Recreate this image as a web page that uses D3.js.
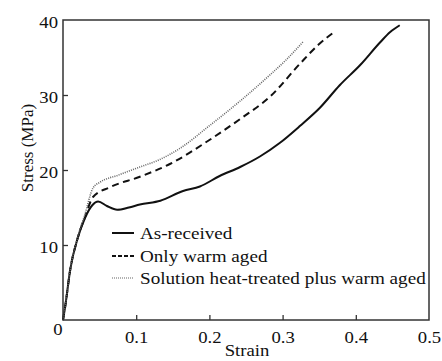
<!DOCTYPE html>
<html>
<head>
<meta charset="utf-8">
<script src="https://cdn.jsdelivr.net/npm/d3@7"></script>
<style>
  html, body { margin: 0; padding: 0; background: #fff; }
  svg { display: block; }
  svg text { font-family: "Liberation Serif", "Times New Roman", Times, serif; }
</style>
</head>
<body>
<svg id="chart" width="442" height="361"></svg>
<script>
// Stress–strain data for the three material conditions
const asReceivedStrain = [0, 0.003, 0.01, 0.02, 0.03, 0.04, 0.048, 0.06, 0.074, 0.09, 0.105, 0.133, 0.164, 0.187, 0.214, 0.242, 0.269, 0.296, 0.324, 0.351, 0.378, 0.406, 0.433, 0.447, 0.46];
const asReceivedStress = [0, 1.8, 6.8, 10.9, 13.6, 15.3, 15.8, 15.2, 14.7, 15.0, 15.4, 15.9, 17.2, 17.8, 19.2, 20.4, 21.8, 23.6, 25.9, 28.3, 31.3, 34.0, 37.0, 38.4, 39.3];

const warmAgedStrain = [0, 0.003, 0.01, 0.02, 0.03, 0.041, 0.064, 0.105, 0.146, 0.2, 0.242, 0.283, 0.324, 0.35, 0.372];
const warmAgedStress = [0, 1.8, 6.8, 10.9, 13.7, 16.4, 17.7, 19.1, 20.8, 24.0, 26.8, 29.8, 34.2, 36.8, 38.5];

const solutionStrain = [0, 0.003, 0.01, 0.02, 0.03, 0.041, 0.051, 0.075, 0.105, 0.13, 0.16, 0.2, 0.242, 0.283, 0.306, 0.328];
const solutionStress = [0, 1.8, 6.8, 11.0, 14.1, 17.6, 18.4, 19.3, 20.4, 21.3, 22.9, 25.9, 29.2, 32.7, 34.8, 37.1];

const seriesNames = ["As-received", "Only warm aged", "Solution heat-treated plus warm aged"];
const xTicks = [0.1, 0.2, 0.3, 0.4, 0.5];
const yTicks = [10, 20, 30, 40];
const xTitle = "Strain";
const yTitle = "Stress (MPa)";

const FONT = "'Liberation Serif', 'Times New Roman', Times, serif";
const FS = 17;
const INK = "#111";

const svg = d3.select("#chart");
const margin = { left: 63, right: 13, top: 20, bottom: 41 };
const W = 442, H = 361;

const x = d3.scaleLinear().domain([0, 0.5]).range([margin.left, W - margin.right]);
const y = d3.scaleLinear().domain([0, 40]).range([H - margin.bottom, margin.top]);

// widen horizontal text by stretching its advance length
function widen(sel, factor = 1.1) {
  sel.each(function () {
    const w = this.getComputedTextLength();
    d3.select(this).attr("textLength", w * factor).attr("lengthAdjust", "spacingAndGlyphs");
  });
}

const series = [
  { name: seriesNames[0], xs: asReceivedStrain, ys: asReceivedStress, color: "#111", width: 2, dash: null },
  { name: seriesNames[1], xs: warmAgedStrain, ys: warmAgedStress, color: "#111", width: 2, dash: "7,4.5" },
  { name: seriesNames[2], xs: solutionStrain, ys: solutionStress, color: "#666", width: 1.6, dash: "1,1.2" }
];

const line = d3.line()
  .x(d => x(d[0]))
  .y(d => y(d[1]))
  .curve(d3.curveMonotoneX);

// curves
series.forEach(s => {
  const pts = s.xs.map((v, i) => [v, s.ys[i]]);
  svg.append("path")
    .datum(pts)
    .attr("d", line)
    .attr("fill", "none")
    .attr("stroke", s.color)
    .attr("stroke-width", s.width)
    .attr("stroke-dasharray", s.dash)
    .attr("stroke-linejoin", "round");
});

// axes with inward ticks
const xAxis = d3.axisBottom(x).tickValues(xTicks).tickSizeInner(-5).tickSizeOuter(0).tickPadding(11)
  .tickFormat(d3.format(".1f"));
const gx = svg.append("g").attr("transform", `translate(0,${y(0)})`).call(xAxis);
const yAxis = d3.axisLeft(y).tickValues(yTicks).tickSizeInner(-5).tickSizeOuter(0).tickPadding(5);
const gy = svg.append("g").attr("transform", `translate(${x(0)},0)`).call(yAxis);

[gx, gy].forEach(g => {
  g.attr("font-family", FONT).attr("font-size", FS);
  g.select(".domain").remove();
  g.selectAll(".tick line").attr("stroke", "#333").attr("stroke-width", 1.3);
  g.selectAll(".tick text").attr("fill", INK).attr("font-size", FS).attr("font-family", FONT);
  widen(g.selectAll(".tick text"));
});
gy.selectAll(".tick text").attr("dy", "0.42em");
gx.selectAll(".tick").filter(d => d === 0.5).select("line").remove();
gy.selectAll(".tick").filter(d => d === 40).select("line").remove();

// shared origin label
svg.append("text")
  .attr("x", x(0) - 5).attr("y", y(0) + 15)
  .attr("text-anchor", "middle")
  .attr("font-family", FONT).attr("font-size", FS).attr("fill", INK)
  .text("0")
  .call(widen);

// plot frame
svg.append("rect")
  .attr("x", x(0)).attr("y", y(40))
  .attr("width", x(0.5) - x(0)).attr("height", y(0) - y(40))
  .attr("fill", "none").attr("stroke", "#333").attr("stroke-width", 1.5);

// axis titles
svg.append("text")
  .attr("x", 247).attr("y", 356)
  .attr("text-anchor", "middle")
  .attr("font-family", FONT).attr("font-size", FS).attr("fill", INK)
  .text(xTitle)
  .call(widen);
svg.append("text")
  .attr("transform", `translate(33,148) rotate(-90)`)
  .attr("text-anchor", "middle")
  .attr("font-family", FONT).attr("font-size", FS).attr("fill", INK)
  .text(yTitle);

// legend
const legendRows = [233, 256, 278];
const legendDash = [null, "4,2", "1,1"];
series.forEach((s, i) => {
  const ly = legendRows[i];
  svg.append("line")
    .attr("x1", 112).attr("x2", 134).attr("y1", ly).attr("y2", ly)
    .attr("stroke", s.color).attr("stroke-width", i === 2 ? 1.2 : 2)
    .attr("stroke-dasharray", legendDash[i]);
  svg.append("text")
    .attr("x", 140).attr("y", ly + 5.5)
    .attr("font-family", FONT).attr("font-size", FS).attr("fill", INK)
    .text(s.name)
    .call(widen, 1.125);
});
</script>
</body>
</html>
